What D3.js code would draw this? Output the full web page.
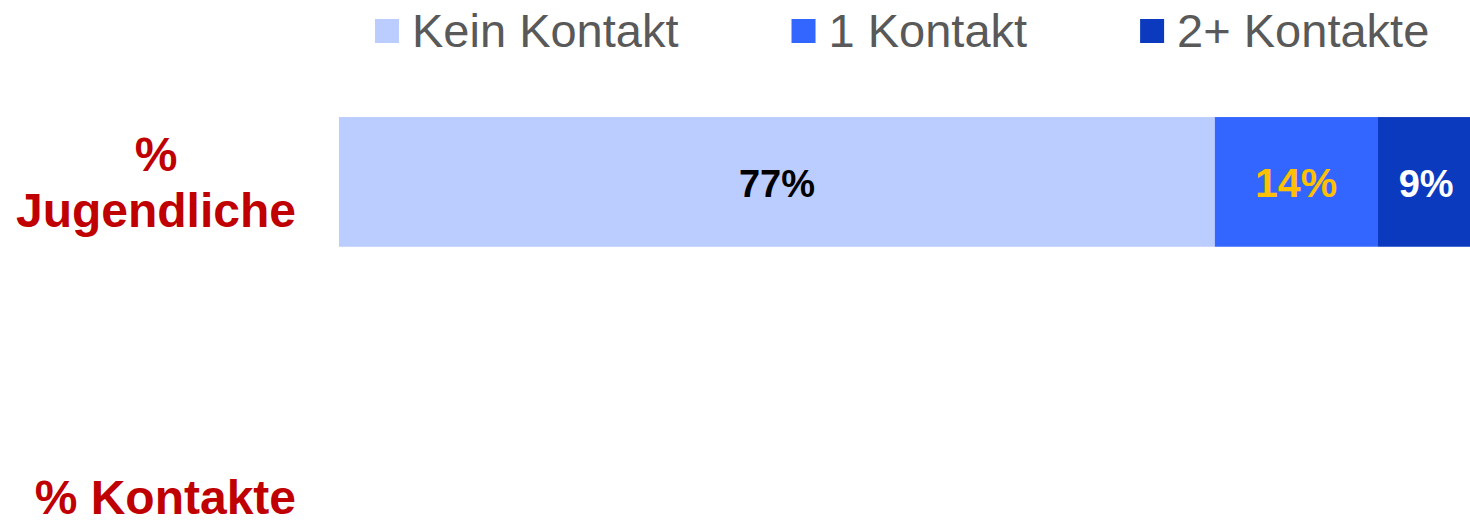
<!DOCTYPE html>
<html>
<head>
<meta charset="utf-8">
<script src="https://cdn.jsdelivr.net/npm/d3@7"></script>
<style>
  body { margin: 0; background: #fff; }
  text { font-family: "Liberation Sans", Arial, sans-serif; }
</style>
</head>
<body>
<main></main>
<script>
      var categories = ["% Jugendliche", "% Kontakte"];
      var series = ["Kein Kontakt", "1 Kontakt", "2+ Kontakte"];
      // share per category, second row has no values in the picture
      var jugendliche = [77.1, 14.3, 8.6];
      var kontakte = [null, null, null];
      var valueLabels = ["77%", "14%", "9%"];

      var colors = ["#BBCCFF", "#3366FF", "#0B3ABE"];
      var labelColors = ["#000000", "#FFC000", "#FFFFFF"];

      var w = 1470, h = 525;
      var svg = d3.select("main")
                  .append("svg")
                  .attr("width", w)
                  .attr("height", h);

      var x = d3.scaleLinear()
                .domain([0, 100])
                .range([339, 1475]);
      var y = d3.scaleBand()
                .domain(categories)
                .range([21, 663])
                .paddingInner(0.595)
                .paddingOuter(0.3);

      var rows = [jugendliche, kontakte];

      var bars = svg.append("g");
      rows.forEach(function(vals, r) {
        var start = 0;
        vals.forEach(function(v, i) {
          if (v == null) return;
          bars.append("rect")
              .attr("x", x(start))
              .attr("y", y(categories[r]))
              .attr("width", x(start + v) - x(start))
              .attr("height", y.bandwidth())
              .attr("fill", colors[i]);
          bars.append("text")
              .attr("x", x(start + v / 2))
              .attr("y", y(categories[r]) + y.bandwidth() / 2 + 15)
              .attr("text-anchor", "middle")
              .attr("font-size", i == 1 ? "41px" : "38px")
              .attr("font-weight", "bold")
              .attr("fill", labelColors[i])
              .text(valueLabels[i]);
          start += v;
        });
      });

      // category labels: block right edge at 296, lines centred
      var labelLines = [["%", "Jugendliche"], ["% Kontakte"]];
      categories.forEach(function(c, r) {
        var lines = labelLines[r];
        var g = svg.append("g");
        var t = g.append("text")
                 .attr("font-size", "48px")
                 .attr("font-weight", "bold")
                 .attr("fill", "#C00000")
                 .attr("text-anchor", "middle");
        var lh = 56;
        var mid = y(c) + y.bandwidth() / 2;
        var first = mid - (lines.length - 1) * lh / 2 + 17;
        lines.forEach(function(l, i) {
          // keep the lower label inside the window
          t.append("tspan").attr("x", 0).attr("y", Math.min(first + i * lh, 514)).text(l);
        });
        var bw = t.node().getBBox().width;
        t.attr("transform", "translate(" + (296 - bw / 2) + ",0)");
      });

      // legend
      var legend = svg.append("g");
      var lx = 375;
      series.forEach(function(s, i) {
        legend.append("rect")
              .attr("x", lx)
              .attr("y", 19)
              .attr("width", 24)
              .attr("height", 24)
              .attr("fill", colors[i]);
        var t = legend.append("text")
              .attr("x", lx + 37)
              .attr("y", 47)
              .attr("font-size", "47px")
              .attr("fill", "#595959")
              .text(s);
        lx += 37 + t.node().getComputedTextLength() + 113;
      });
</script>
</body>
</html>
